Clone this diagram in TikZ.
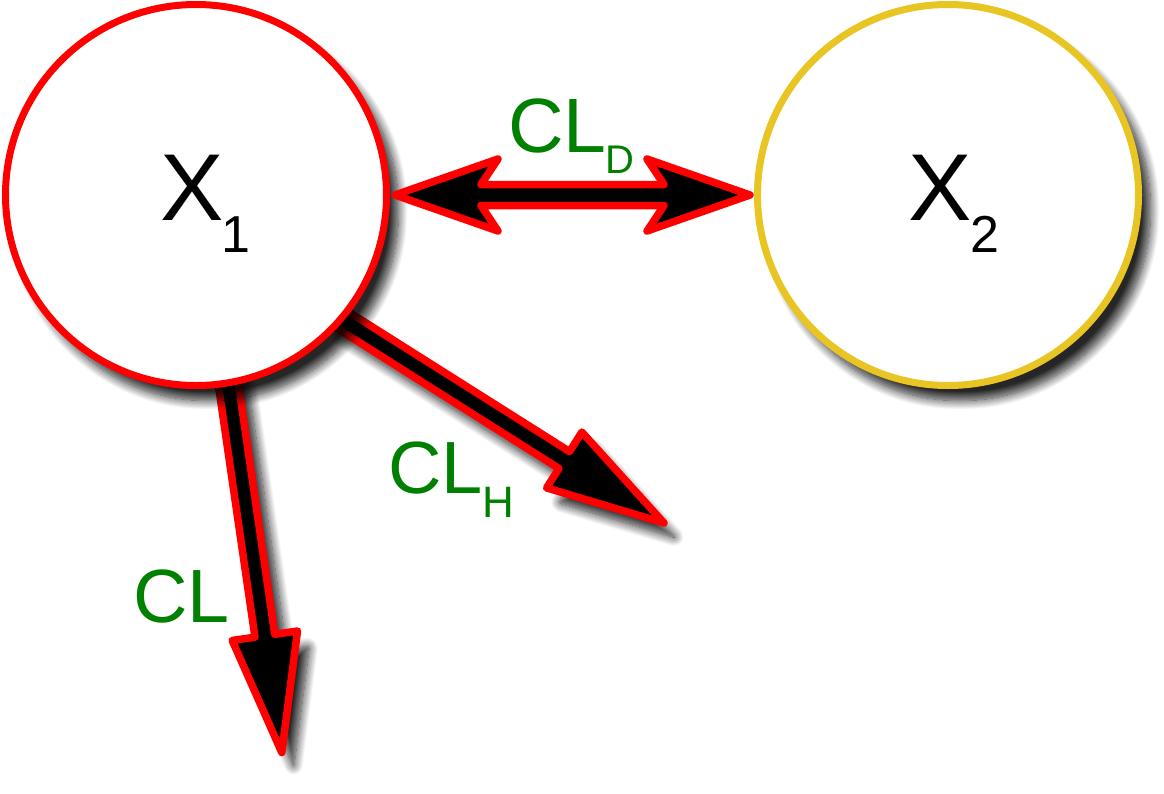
\documentclass[tikz,border=0pt]{standalone}
\usepackage{fontspec}
\setmainfont{Liberation Sans}
\usetikzlibrary{calc,shadows.blur}
\pgfdeclarelayer{behind}
\pgfsetlayers{behind,main}
\definecolor{cred}{RGB}{255,0,0}
\definecolor{cyellow}{RGB}{233,197,35}
\definecolor{cgreen}{RGB}{0,128,0}
\tikzset{
  softshadow/.style={blur shadow={shadow xshift=12pt,shadow yshift=-15pt,shadow blur radius=9pt,shadow blur extra rounding=3pt,shadow blur steps=14,shadow opacity=85}},
  bubble/.style={circle,minimum size=381pt,inner sep=0pt,line width=7pt,fill=white,softshadow},
  fatarrow/.style={fill=black,draw=cred,line width=7.5pt,line join=round},
  lbl/.style={anchor=base west,inner sep=0pt,outer sep=0pt},
}
% single fat arrow: [options]{start}{tip}{shaft half width}{head half width}{head length}
\newcommand{\fatsingle}[6][]{%
  \coordinate (fs-h) at ($(#3)!#6!(#2)$);
  \path[fatarrow,#1] ($(#2)!#4!90:(#3)$) -- ($(fs-h)!#4!-90:(#2)$) -- ($(fs-h)!#5!-90:(#2)$) -- (#3)
    -- ($(fs-h)!#5!90:(#2)$) -- ($(fs-h)!#4!90:(#2)$) -- ($(#2)!#4!-90:(#3)$) -- cycle;}
% double fat arrow: [options]{tipA}{tipB}{shaft half width}{head half width}{barb dist}{notch dist}
\newcommand{\fatdouble}[7][]{%
  \coordinate (fd-b1) at ($(#2)!#6!(#3)$);
  \coordinate (fd-n1) at ($(#2)!#7!(#3)$);
  \coordinate (fd-b2) at ($(#3)!#6!(#2)$);
  \coordinate (fd-n2) at ($(#3)!#7!(#2)$);
  \path[fatarrow,#1] (#2) -- ($(fd-b1)!#5!90:(#3)$) -- ($(fd-n1)!#4!90:(#3)$) -- ($(fd-n2)!#4!-90:(#2)$)
    -- ($(fd-b2)!#5!-90:(#2)$) -- (#3) -- ($(fd-b2)!#5!90:(#2)$) -- ($(fd-n2)!#4!90:(#2)$)
    -- ($(fd-n1)!#4!-90:(#3)$) -- ($(fd-b1)!#5!-90:(#3)$) -- cycle;}
\begin{document}
\begin{tikzpicture}[x=1pt,y=-1pt]
\useasboundingbox (0,0) rectangle (1164,793);
% circles
\node[bubble,draw=cred] (X1) at (196,195) {};
\node[bubble,draw=cyellow] (X2) at (948,195) {};
% arrow end points
\coordinate (h0) at ($(X1.center)+(134,117)$);
\coordinate (h1) at (664,523);
\coordinate (v0) at ($(X1.center)+(24.5,135)$);
\coordinate (v1) at (281.8,752.5);
\begin{pgfonlayer}{behind}
\fatsingle[softshadow]{h0}{h1}{10pt}{33pt}{118pt}
\fatsingle[softshadow]{v0}{v1}{10pt}{33pt}{118pt}
\end{pgfonlayer}
% double arrow between X1 and X2
\coordinate (dA) at ($(X1.east)!5pt!(X2.west)$);
\coordinate (dB) at ($(X2.west)!4pt!(X1.east)$);
\fatdouble{dA}{dB}{10.5pt}{36pt}{103pt}{86pt}
% labels
\node[lbl,text=black] (t1) at (160.6,220) {\fontsize{95}{95}\selectfont X\kern-2.7pt\raisebox{-32pt}{\fontsize{52}{52}\selectfont 1}};
\node[lbl,text=black] (t2) at (908.6,220) {\fontsize{95}{95}\selectfont X\kern-1.6pt\raisebox{-32pt}{\fontsize{52}{52}\selectfont 2}};
\node[lbl,text=cgreen] (tD) at (508,152.5) {\fontsize{77}{77}\selectfont CL\kern-0.5pt\raisebox{-20.5pt}{\fontsize{40}{40}\selectfont D}};
\node[lbl,text=cgreen] (tH) at (388.3,493) {\fontsize{74}{74}\selectfont CL\kern-0.5pt\raisebox{-24pt}{\fontsize{44}{44}\selectfont H}};
\node[lbl,text=cgreen] (tC) at (133.2,622) {\fontsize{75.5}{75.5}\selectfont CL};
\end{tikzpicture}
\end{document}
